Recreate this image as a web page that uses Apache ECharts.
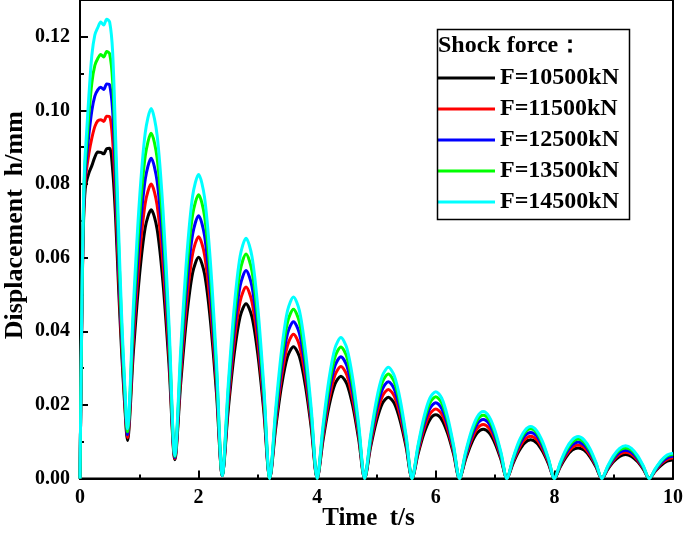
<!DOCTYPE html>
<html>
<head>
<meta charset="utf-8">
<script src="https://cdn.jsdelivr.net/npm/echarts@6/dist/echarts.min.js"></script>
<style>html,body{margin:0;padding:0;background:#fff}#c{width:685px;height:535px}</style>
</head>
<body>
<div id="c"></div>
<script>
const time = [0,0.02,0.04,0.06,0.08,0.1,0.15,0.2,0.25,0.3,0.35,0.4,0.45,0.5,0.55,0.6,0.65,0.7,0.75,0.8,
0.9,1.0,1.1,1.2,1.3,1.4,1.5,1.6,1.7,1.8,1.9,2.0,2.1,2.2,2.3,2.4,2.5,2.6,2.7,2.8,2.9,3.0,3.1,3.2,
3.3,3.4,3.5,3.6,3.7,3.8,3.9,4.0,4.1,4.2,4.3,4.4,4.5,4.6,4.7,4.8,4.9,5.0,5.1,5.2,5.3,5.4,5.5,5.6,
5.7,5.8,5.9,6.0,6.1,6.2,6.3,6.4,6.5,6.6,6.7,6.8,6.9,7.0,7.1,7.2,7.3,7.4,7.5,7.6,7.7,7.8,7.9,8.0,
8.1,8.2,8.3,8.4,8.5,8.6,8.7,8.8,8.9,9.0,9.1,9.2,9.3,9.4,9.5,9.6,9.7,9.8,9.9,10.0];

const seriesNames = ['F=10500kN','F=11500kN','F=12500kN','F=13500kN','F=14500kN'];

const f10500 = [0,0.030,0.055,0.070,0.077,0.080,0.083,0.085,0.0873,0.0887,0.0886,0.0882,0.0896,0.0897,0.084,0.071,0.052,0.035,0.021,0.0103,
0.0343,0.0546,0.0682,0.0730,0.0678,0.0531,0.0311,0.0051,
0.0262,0.0440,0.0559,0.0601,0.0556,0.0427,0.0235,0.0008,
0.0187,0.0338,0.0440,0.0475,0.0439,0.0336,0.0182,0,
0.0137,0.0253,0.0331,0.0358,0.0331,0.0253,0.0137,0,
0.0106,0.0197,0.0257,0.0278,0.0257,0.0197,0.0106,0,
0.0085,0.0156,0.0204,0.0221,0.0204,0.0156,0.0085,0,
0.0066,0.0122,0.0160,0.0173,0.0160,0.0122,0.0066,0,
0.0051,0.0095,0.0124,0.0134,0.0124,0.0095,0.0051,0,
0.0040,0.0074,0.0097,0.0105,0.0097,0.0074,0.0040,0,
0.0032,0.0059,0.0077,0.0083,0.0077,0.0059,0.0032,0,
0.0025,0.0046,0.0060,0.0065,0.0060,0.0046,0.0025,0,
0.0020,0.0036,0.0047,0.0051];

const f11500 = [0,0.0305,0.0558,0.0715,0.0793,0.0828,0.0883,0.0925,0.0956,0.0972,0.0975,0.0970,0.0984,0.0983,0.092,0.0765,0.056,0.0375,0.0225,0.0111,
0.0375,0.0598,0.0748,0.0800,0.0743,0.0581,0.0340,0.0054,
0.0285,0.0480,0.0611,0.0657,0.0608,0.0467,0.0257,0.0008,
0.0204,0.0370,0.0481,0.0520,0.0480,0.0368,0.0199,0,
0.0150,0.0277,0.0362,0.0392,0.0362,0.0277,0.0150,0,
0.0116,0.0215,0.0281,0.0304,0.0281,0.0215,0.0116,0,
0.0093,0.0171,0.0224,0.0242,0.0224,0.0171,0.0093,0,
0.0072,0.0134,0.0175,0.0189,0.0175,0.0134,0.0072,0,
0.0056,0.0104,0.0136,0.0147,0.0136,0.0104,0.0056,0,
0.0044,0.0081,0.0106,0.0115,0.0106,0.0081,0.0044,0,
0.0035,0.0064,0.0084,0.0091,0.0084,0.0064,0.0035,0,
0.0027,0.0050,0.0066,0.0071,0.0066,0.0050,0.0027,0,
0.0021,0.0040,0.0052,0.0056];

const f12500 = [0,0.031,0.0565,0.073,0.0815,0.0855,0.0935,0.100,0.1039,0.1056,0.1063,0.1057,0.1072,0.1069,0.100,0.082,0.060,0.040,0.024,0.0119,
0.0407,0.0650,0.0813,0.0870,0.0808,0.0632,0.0368,0.0057,
0.0309,0.0521,0.0664,0.0714,0.0660,0.0507,0.0278,0.0008,
0.0221,0.0402,0.0523,0.0565,0.0522,0.0399,0.0216,0,
0.0163,0.0301,0.0394,0.0426,0.0394,0.0301,0.0163,0,
0.0127,0.0234,0.0306,0.0331,0.0306,0.0234,0.0127,0,
0.0101,0.0186,0.0243,0.0263,0.0243,0.0186,0.0101,0,
0.0079,0.0146,0.0190,0.0206,0.0190,0.0146,0.0079,0,
0.0061,0.0113,0.0148,0.0160,0.0148,0.0113,0.0061,0,
0.0048,0.0088,0.0116,0.0125,0.0116,0.0088,0.0048,0,
0.0038,0.0070,0.0091,0.0099,0.0091,0.0070,0.0038,0,
0.0029,0.0054,0.0071,0.0077,0.0071,0.0054,0.0029,0,
0.0023,0.0043,0.0056,0.0061];

const f13500 = [0,0.0315,0.0573,0.0745,0.0838,0.0883,0.0988,0.1075,0.1122,0.1141,0.1152,0.1145,0.1160,0.1154,0.108,0.0875,0.064,0.0425,0.0255,0.0127,
0.0438,0.0700,0.0876,0.0938,0.0871,0.0681,0.0396,0.0060,
0.0332,0.0563,0.0717,0.0771,0.0713,0.0547,0.0300,0.0008,
0.0239,0.0434,0.0564,0.0610,0.0564,0.0431,0.0234,0,
0.0176,0.0325,0.0425,0.0460,0.0425,0.0325,0.0176,0,
0.0137,0.0252,0.0330,0.0357,0.0330,0.0252,0.0137,0,
0.0109,0.0201,0.0262,0.0284,0.0262,0.0201,0.0109,0,
0.0085,0.0157,0.0205,0.0222,0.0205,0.0157,0.0085,0,
0.0066,0.0122,0.0159,0.0172,0.0159,0.0122,0.0066,0,
0.0052,0.0095,0.0125,0.0135,0.0125,0.0095,0.0052,0,
0.0041,0.0076,0.0099,0.0107,0.0099,0.0076,0.0041,0,
0.0032,0.0059,0.0077,0.0083,0.0077,0.0059,0.0032,0,
0.0025,0.0047,0.0061,0.0066];

const f14500 = [0,0.032,0.058,0.076,0.086,0.091,0.104,0.115,0.1205,0.1225,0.1240,0.1232,0.1248,0.1240,0.116,0.093,0.068,0.045,0.027,0.0135,
0.0468,0.0750,0.0939,0.1005,0.0933,0.0729,0.0423,0.0062,
0.0355,0.0602,0.0768,0.0826,0.0764,0.0586,0.0321,0.0008,
0.0255,0.0464,0.0604,0.0653,0.0603,0.0462,0.0250,0,
0.0189,0.0349,0.0456,0.0493,0.0456,0.0349,0.0189,0,
0.0147,0.0271,0.0354,0.0383,0.0354,0.0271,0.0147,0,
0.0116,0.0214,0.0279,0.0302,0.0279,0.0214,0.0116,0,
0.0090,0.0167,0.0218,0.0236,0.0218,0.0167,0.0090,0,
0.0070,0.0129,0.0168,0.0182,0.0168,0.0129,0.0070,0,
0.0054,0.0100,0.0130,0.0141,0.0130,0.0100,0.0054,0,
0.0044,0.0081,0.0105,0.0114,0.0105,0.0081,0.0044,0,
0.0034,0.0063,0.0082,0.0089,0.0082,0.0063,0.0034,0,
0.0026,0.0049,0.0064,0.0069];

const seriesValues = [f10500, f11500, f12500, f13500, f14500];
const colors = ['#000000', '#ff0000', '#0000ff', '#00ff00', '#00ffff'];

const FONT = '"Liberation Serif", "Times New Roman", serif';
const chart = echarts.init(document.getElementById('c'), null, {renderer: 'canvas'});

chart.setOption({
  animation: false,
  backgroundColor: '#ffffff',
  grid: {left: 80, right: 12, top: 0, bottom: 56.5, show: true, borderColor: '#000', borderWidth: 2,
    backgroundColor: 'transparent', containLabel: false, outerBoundsMode: 'none'},
  xAxis: {
    type: 'value', min: 0, max: 10, interval: 2,
    name: 'Time  t/s', nameLocation: 'middle', nameGap: 28, nameMoveOverlap: false,
    nameTextStyle: {fontFamily: FONT, fontWeight: 'bold', fontSize: 25, color: '#000', padding: [0, 16, 0, 0]},
    axisLine: {lineStyle: {color: '#000', width: 2}},
    axisTick: {inside: true, length: 8, lineStyle: {color: '#000', width: 2}},
    minorTick: {show: true, splitNumber: 2, length: 4, lineStyle: {color: '#000', width: 2}},
    splitLine: {show: false},
    axisLabel: {fontFamily: FONT, fontWeight: 'bold', fontSize: 20, color: '#000', margin: 9}
  },
  yAxis: {
    type: 'value', min: 0, max: 0.13, interval: 0.02,
    name: 'Displacement  h/mm', nameLocation: 'middle', nameGap: 52, nameMoveOverlap: false,
    nameTextStyle: {fontFamily: FONT, fontWeight: 'bold', fontSize: 26, color: '#000', padding: [0, 0, 0, 28]},
    axisLine: {lineStyle: {color: '#000', width: 2}},
    axisTick: {inside: true, length: 8, lineStyle: {color: '#000', width: 2}},
    minorTick: {show: true, splitNumber: 2, length: 4, lineStyle: {color: '#000', width: 2}},
    splitLine: {show: false},
    axisLabel: {fontFamily: FONT, fontWeight: 'bold', fontSize: 20, color: '#000', margin: 10,
      showMaxLabel: false, formatter: v => v.toFixed(2)}
  },
  legend: {
    orient: 'vertical', left: 437, top: 66, padding: 0, itemGap: 7,
    itemWidth: 58, itemHeight: 3, icon: 'rect',
    textStyle: {fontFamily: FONT, fontWeight: 'bold', fontSize: 24, color: '#000'},
    data: seriesNames
  },
  graphic: [
    {type: 'rect', left: 435, top: 27, shape: {width: 192, height: 190}, style: {fill: 'none', stroke: '#000', lineWidth: 1.5}, z: 100},
    {type: 'text', left: 438, top: 34, style: {text: 'Shock force：', font: 'bold 24px ' + FONT, fill: '#000'}, z: 100}
  ],
  series: seriesNames.map((name, k) => ({
    name: name, type: 'line', symbol: 'none', smooth: 0.3,
    color: colors[k],
    lineStyle: {color: colors[k], width: 3},
    data: time.map((t, i) => [t, seriesValues[k][i]])
  }))
});
</script>
</body>
</html>
